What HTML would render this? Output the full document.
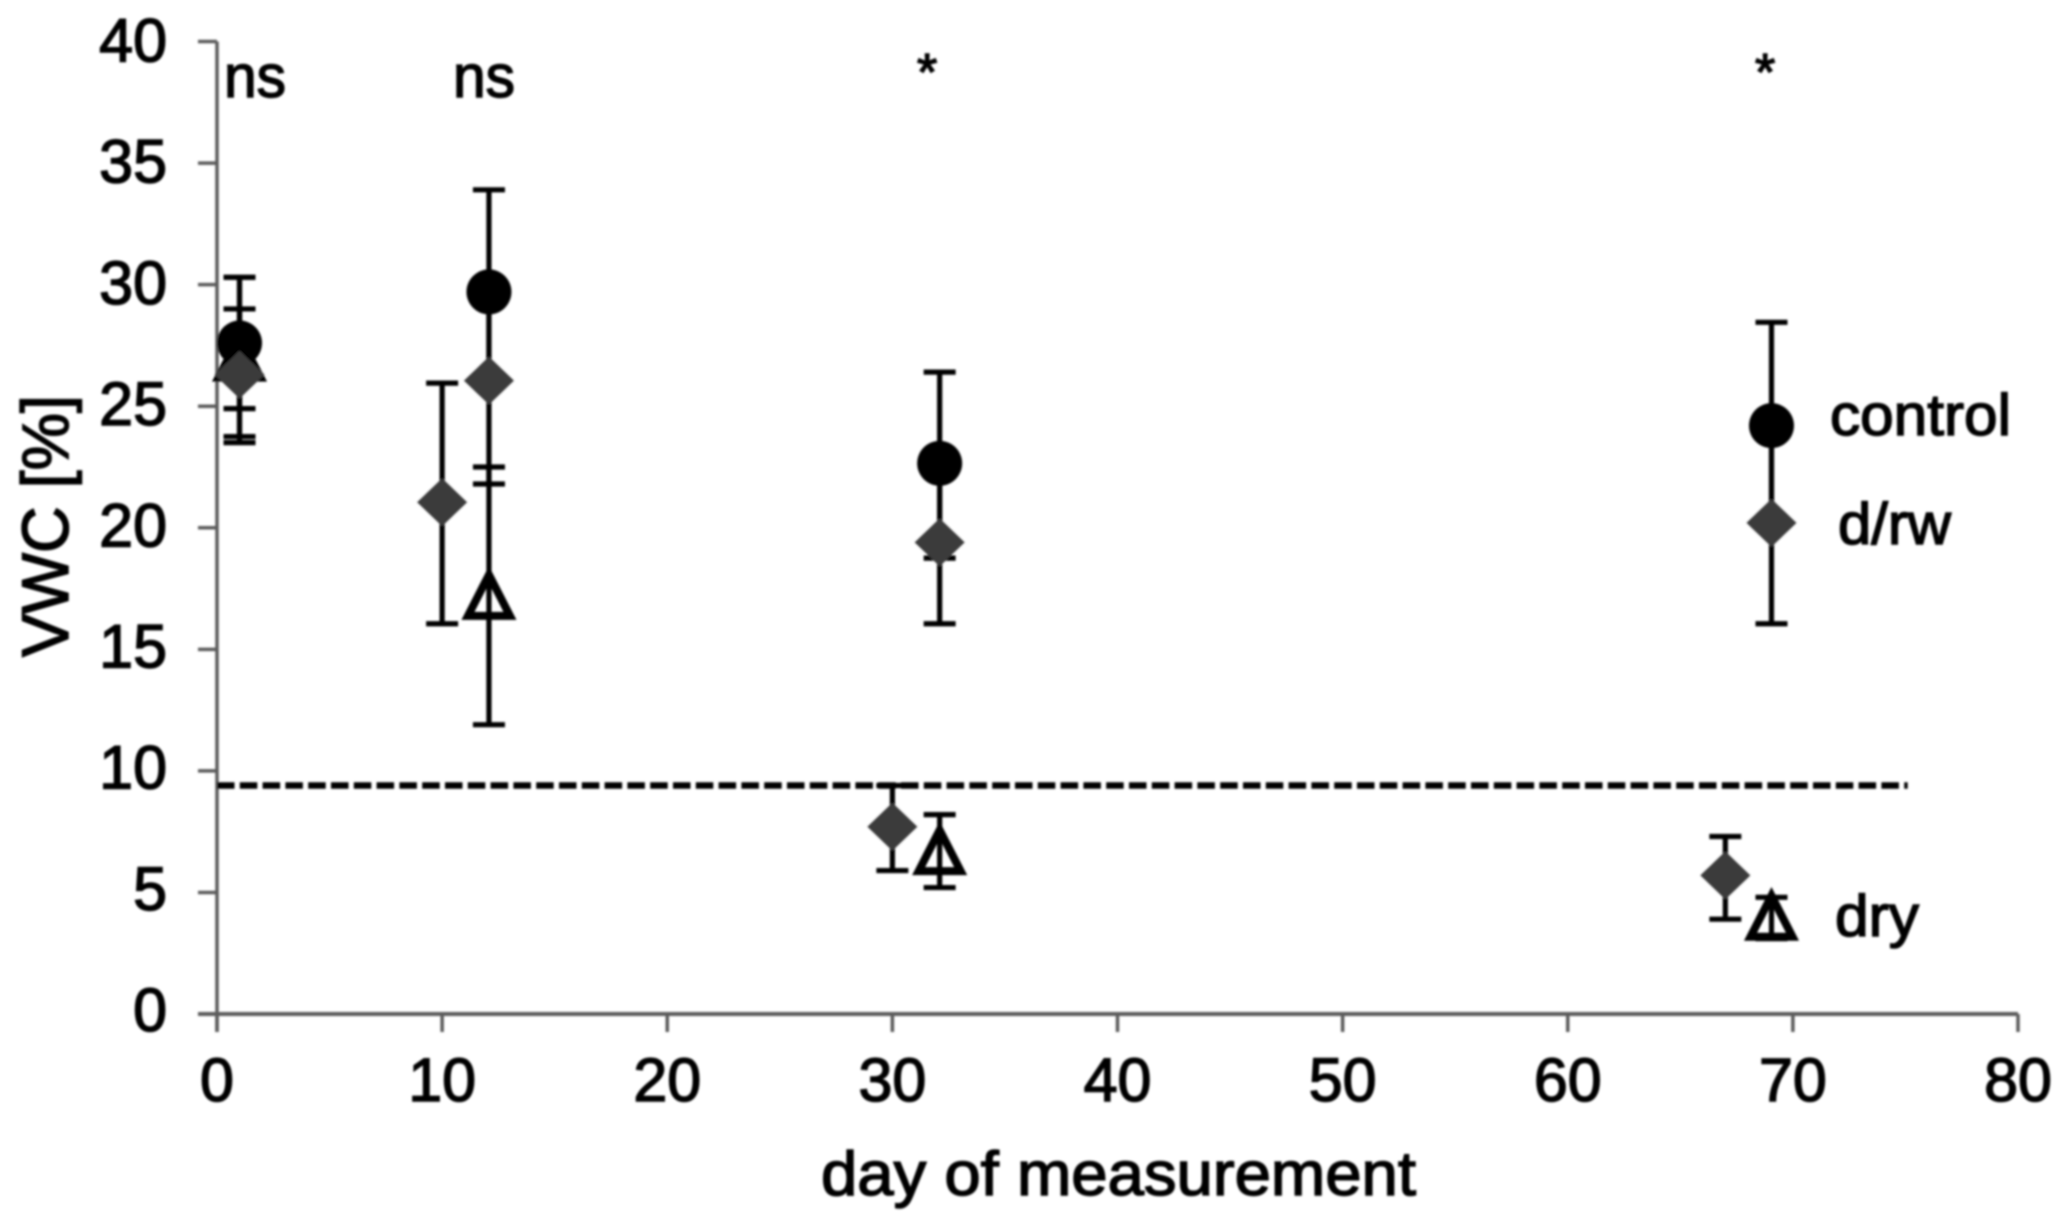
<!DOCTYPE html>
<html lang="en">
<head>
<meta charset="utf-8">
<title>VWC by day of measurement</title>
<style>
html,body{margin:0;padding:0;background:#fff;}
svg{display:block;}
text{font-family:"Liberation Sans",Arial,sans-serif;fill:#000;stroke:#000;stroke-width:1.5px;}
</style>
</head>
<body>
<svg id="chart" xmlns="http://www.w3.org/2000/svg" width="2068" height="1222" viewBox="0 0 2068 1222">
  <defs>
    <filter id="soft" filterUnits="userSpaceOnUse" x="0" y="0" width="2068" height="1222">
      <feGaussianBlur stdDeviation="1"/>
    </filter>
  </defs>
  <rect x="0" y="0" width="2068" height="1222" fill="#fff"/>
  <g id="root" filter="url(#soft)">
    <g id="axes"></g>
    <g id="marks"></g>
    <text font-size="66" transform="translate(68,657) rotate(-90)" textLength="262" lengthAdjust="spacingAndGlyphs">VWC [%]</text>
    <text font-size="62" x="821" y="1195" textLength="595" lengthAdjust="spacingAndGlyphs">day of measurement</text>
    <text font-size="60" x="224" y="97" textLength="62" lengthAdjust="spacingAndGlyphs">ns</text>
    <text font-size="60" x="453" y="97" textLength="62" lengthAdjust="spacingAndGlyphs">ns</text>
    <text font-size="52" x="917" y="90">*</text>
    <text font-size="52" x="1755" y="90">*</text>
    <text font-size="58" x="1830" y="435" textLength="181" lengthAdjust="spacingAndGlyphs">control</text>
    <text font-size="58" x="1838" y="544" textLength="113" lengthAdjust="spacingAndGlyphs">d/rw</text>
    <text font-size="58" x="1835" y="936" textLength="84" lengthAdjust="spacingAndGlyphs">dry</text>
  </g>
</svg>
<script>
const xTickLabels = [0, 10, 20, 30, 40, 50, 60, 70, 80];
const yTickLabels = [0, 5, 10, 15, 20, 25, 30, 35, 40];

const controlDays = [1, 12.08, 32.1, 69.05];
const controlValues = [27.6, 29.7, 22.65, 24.2];
const controlUpper = [30.3, 33.9, 26.4, 28.45];
const controlLower = [24.9, 26.05, 18.75, 20.0];

const drwDays = [1, 10, 12.08, 30, 32.1, 67, 69.05];
const drwValues = [26.3, 21.05, 26.05, 7.7, 19.4, 5.7, 20.2];
const drwUpper = [29.0, 25.95, 30.2, 9.4, 22.8, 7.3, 24.3];
const drwLower = [23.5, 16.05, 21.8, 5.9, 16.05, 3.9, 16.05];

const dryDays = [1, 12.08, 32.1, 69.05];
const dryValues = [27.0, 17.2, 6.7, 4.0];
const dryUpper = [30.3, 22.5, 8.2, 4.8];
const dryLower = [23.75, 11.9, 5.2, 3.1];

const thresholdValue = [9.4];
const thresholdDayRange = [0, 75.1];

const NS = 'http://www.w3.org/2000/svg';
function xScale(v) { return 217 + (v / 80) * (2018 - 217); }
function yScale(v) { return 1014 - (v / 40) * (1014 - 41.5); }
function make(tag, parent, attrs) {
  const el = document.createElementNS(NS, tag);
  for (const k in attrs) el.setAttribute(k, attrs[k]);
  parent.appendChild(el);
  return el;
}

const axes = document.getElementById('axes');
const marks = document.getElementById('marks');
const AXIS = '#5c5c5c';

const yAxis = make('line', axes, {x1: xScale(0), x2: xScale(0), y1: yScale(40), y2: 1032, stroke: AXIS, 'stroke-width': 3.5});



const xAxis = make('line', axes, {x1: 198, x2: xScale(80), y1: yScale(0), y2: yScale(0), stroke: AXIS, 'stroke-width': 4});



yTickLabels.forEach(function (t) {
  const tick = make('line', axes, {x1: 198, x2: xScale(0), y1: yScale(t), y2: yScale(t), stroke: AXIS, 'stroke-width': 3.5});
  
  
  const label = make('text', axes, {x: 167, y: yScale(t) + 17 + 3 * (t / 40), 'text-anchor': 'end', 'font-size': 61});
  label.textContent = String(t);
  
  
});

xTickLabels.forEach(function (t) {
  const tick = make('line', axes, {x1: xScale(t), x2: xScale(t), y1: yScale(0), y2: 1032, stroke: AXIS, 'stroke-width': 3.5});
  
  
  const label = make('text', axes, {x: xScale(t), y: 1101, 'text-anchor': 'middle', 'font-size': 61});
  label.textContent = String(t);
  
  
});

const threshold = make('line', marks, {
  x1: xScale(thresholdDayRange[0]), x2: xScale(thresholdDayRange[1]),
  y1: yScale(thresholdValue[0]), y2: yScale(thresholdValue[0]),
  stroke: '#000', 'stroke-width': 6.5, 'stroke-dasharray': '17.5 5.3'
});



function drawErrorBar(parent, day, hi, lo) {
  const g = make('g', parent, {stroke: '#000', 'stroke-width': 5.2});
  const x = xScale(day);
  make('line', g, {x1: x, x2: x, y1: yScale(hi), y2: yScale(lo)});
  make('line', g, {x1: x - 16, x2: x + 16, y1: yScale(hi), y2: yScale(hi)});
  make('line', g, {x1: x - 16, x2: x + 16, y1: yScale(lo), y2: yScale(lo)});
  return g;
}

dryDays.forEach(function (d, i) {
  const x = xScale(d), y = yScale(dryValues[i]);
  const tri = make('polygon', marks, {
    points: x + ',' + (y - 21) + ' ' + (x - 21) + ',' + (y + 20) + ' ' + (x + 21) + ',' + (y + 20),
    fill: 'none', stroke: '#000', 'stroke-width': 8, 'stroke-linejoin': 'miter', 'stroke-miterlimit': 6
  });
  
  
  const bar = drawErrorBar(marks, d, dryUpper[i], dryLower[i]);
  
  
});

controlDays.forEach(function (d, i) {
  const bar = drawErrorBar(marks, d, controlUpper[i], controlLower[i]);
  
  
  const dot = make('circle', marks, {cx: xScale(d), cy: yScale(controlValues[i]), r: 22.5, fill: '#000'});
  
  
});

drwDays.forEach(function (d, i) {
  const bar = drawErrorBar(marks, d, drwUpper[i], drwLower[i]);
  
  
  const x = xScale(d), y = yScale(drwValues[i]);
  const dia = make('polygon', marks, {
    points: x + ',' + (y - 24) + ' ' + (x + 25) + ',' + y + ' ' + x + ',' + (y + 24) + ' ' + (x - 25) + ',' + y,
    fill: '#3a3a3a'
  });
  
  
});
</script>
</body>
</html>
